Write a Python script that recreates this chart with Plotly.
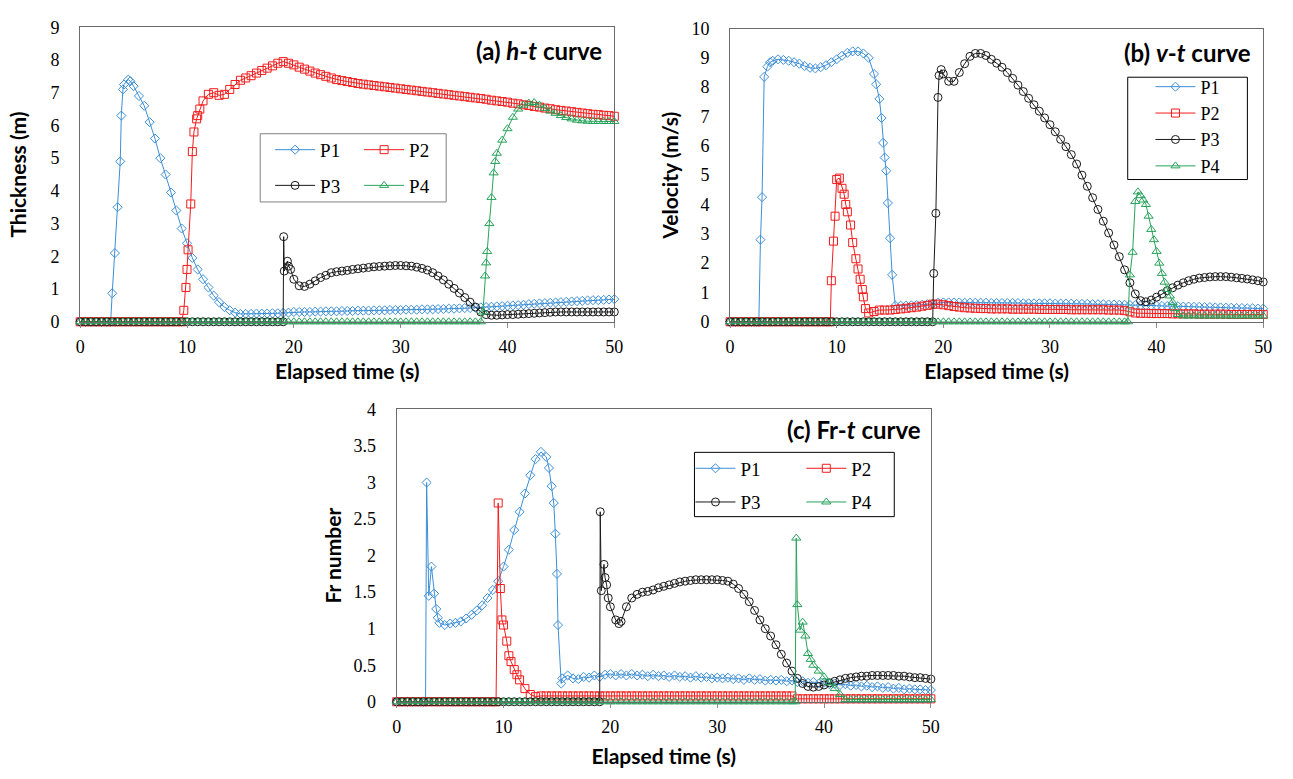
import plotly.graph_objects as go

# ---------------- data (time grid 0..50 s every 0.5 s, 101 values) ----------------
# Extra samples refine steep parts of each curve.

# (a) thickness h (m)
H_P1 = [
    0, 0, 0, 0, 0, 0, 0.87, 3.5, 7.1, 7.4,
    7.2, 6.9, 6.6, 6.1, 5.6, 5.0, 4.5, 3.95, 3.4, 2.85,
    2.4, 1.95, 1.6, 1.3, 1.05, 0.8, 0.6, 0.45, 0.35, 0.28,
    0.24, 0.24, 0.24, 0.25, 0.25, 0.25, 0.26, 0.26, 0.27, 0.28,
    0.3, 0.3, 0.3, 0.3, 0.31, 0.31, 0.32, 0.32, 0.32, 0.33,
    0.33, 0.33, 0.34, 0.34, 0.34, 0.35, 0.35, 0.35, 0.36, 0.36,
    0.36, 0.37, 0.37, 0.37, 0.38, 0.38, 0.38, 0.39, 0.39, 0.4,
    0.4, 0.41, 0.42, 0.42, 0.43, 0.44, 0.45, 0.46, 0.47, 0.48,
    0.49, 0.5, 0.51, 0.52, 0.54, 0.55, 0.56, 0.57, 0.58, 0.59,
    0.6, 0.61, 0.62, 0.63, 0.64, 0.65, 0.66, 0.66, 0.67, 0.68,
    0.69]
H_P1_XT = [2.85, 3.25, 3.75, 3.85, 4.1, 4.7]
H_P1_XV = [0.0, 2.1, 4.9, 6.3, 7.25, 7.35]

H_P2 = [
    0, 0, 0, 0, 0, 0, 0, 0, 0, 0,
    0, 0, 0, 0, 0, 0, 0, 0, 0, 0,
    1.6, 5.2, 6.3, 6.75, 6.95, 7.0, 6.92, 6.95, 7.1, 7.25,
    7.38, 7.45, 7.52, 7.6, 7.68, 7.75, 7.82, 7.9, 7.95, 7.9,
    7.85, 7.78, 7.72, 7.66, 7.6, 7.55, 7.5, 7.45, 7.4, 7.37,
    7.34, 7.31, 7.28, 7.26, 7.24, 7.22, 7.2, 7.18, 7.16, 7.14,
    7.12, 7.1, 7.08, 7.06, 7.04, 7.02, 7.0, 6.98, 6.96, 6.94,
    6.92, 6.9, 6.88, 6.86, 6.84, 6.82, 6.8, 6.77, 6.75, 6.73,
    6.71, 6.68, 6.66, 6.63, 6.61, 6.58, 6.56, 6.53, 6.51, 6.48,
    6.46, 6.44, 6.42, 6.4, 6.38, 6.36, 6.34, 6.33, 6.31, 6.3,
    6.28]
H_P2_XT = [9.7, 9.9, 10.1, 10.35, 10.65, 10.9, 11.2]
H_P2_XV = [0.35, 1.05, 2.2, 3.6, 5.8, 6.2, 6.5]

H_P3 = [
    0, 0, 0, 0, 0, 0, 0, 0, 0, 0,
    0, 0, 0, 0, 0, 0, 0, 0, 0, 0,
    0, 0, 0, 0, 0, 0, 0, 0, 0, 0,
    0, 0, 0, 0, 0, 0, 0, 0, 0, 1.7,
    1.3, 1.1, 1.08, 1.15, 1.25, 1.35, 1.42, 1.5, 1.53, 1.55,
    1.57, 1.6, 1.62, 1.64, 1.66, 1.68, 1.69, 1.7, 1.71, 1.72,
    1.72, 1.71, 1.7, 1.67, 1.63, 1.58, 1.5, 1.4, 1.28, 1.15,
    1.02, 0.88, 0.74, 0.6, 0.45, 0.3, 0.22, 0.2, 0.2, 0.21,
    0.22, 0.22, 0.23, 0.24, 0.25, 0.26, 0.27, 0.28, 0.29, 0.3,
    0.3, 0.3, 0.3, 0.3, 0.3, 0.3, 0.3, 0.3, 0.3, 0.3,
    0.3]
H_P3_XT = [19.05, 19.1, 19.4, 19.7]
H_P3_XV = [2.6, 1.55, 1.85, 1.6]

H_P4 = [
    0, 0, 0, 0, 0, 0, 0, 0, 0, 0,
    0, 0, 0, 0, 0, 0, 0, 0, 0, 0,
    0, 0, 0, 0, 0, 0, 0, 0, 0, 0,
    0, 0, 0, 0, 0, 0, 0, 0, 0, 0,
    0, 0, 0, 0, 0, 0, 0, 0, 0, 0,
    0, 0, 0, 0, 0, 0, 0, 0, 0, 0,
    0, 0, 0, 0, 0, 0, 0, 0, 0, 0,
    0, 0, 0, 0, 0, 0, 1.8, 3.8, 5.15, 5.55,
    5.9, 6.25, 6.5, 6.62, 6.68, 6.7, 6.62, 6.52, 6.44, 6.37,
    6.3, 6.24, 6.2, 6.16, 6.14, 6.13, 6.12, 6.12, 6.12, 6.12,
    6.12]
H_P4_XT = [37.7, 37.9, 38.1, 38.3, 38.7, 38.85]
H_P4_XV = [0.3, 1.4, 2.15, 3.0, 4.55, 4.9]

# (b) velocity v (m/s)
V_P1 = [
    0, 0, 0, 0, 0, 0, 4.25, 8.7, 8.9, 8.95,
    8.93, 8.9, 8.85, 8.8, 8.72, 8.66, 8.64, 8.68, 8.75, 8.85,
    8.95, 9.07, 9.17, 9.22, 9.22, 9.15, 9.0, 8.45, 7.6, 5.6,
    2.85, 0.55, 0.55, 0.55, 0.56, 0.57, 0.58, 0.6, 0.62, 0.65,
    0.66, 0.66, 0.66, 0.66, 0.65, 0.65, 0.65, 0.65, 0.65, 0.64,
    0.64, 0.64, 0.64, 0.64, 0.64, 0.63, 0.63, 0.63, 0.63, 0.63,
    0.63, 0.62, 0.62, 0.62, 0.62, 0.61, 0.61, 0.61, 0.6, 0.6,
    0.6, 0.59, 0.59, 0.58, 0.58, 0.57, 0.57, 0.56, 0.56, 0.55,
    0.55, 0.54, 0.54, 0.53, 0.53, 0.52, 0.52, 0.51, 0.51, 0.5,
    0.5, 0.49, 0.49, 0.48, 0.48, 0.47, 0.47, 0.46, 0.46, 0.45,
    0.45]
V_P1_XT = [2.7, 2.85, 3.2, 3.75, 13.7, 14.2, 14.35, 14.65, 14.8, 15.2]
V_P1_XV = [0.0, 2.8, 8.35, 8.85, 8.1, 6.95, 6.1, 5.15, 4.05, 1.6]

V_P2 = [
    0, 0, 0, 0, 0, 0, 0, 0, 0, 0,
    0, 0, 0, 0, 0, 0, 0, 0, 0, 1.4,
    4.85, 4.55, 3.75, 2.7, 1.8, 0.85, 0.3, 0.35, 0.4, 0.4,
    0.4, 0.42, 0.44, 0.46, 0.48, 0.5, 0.53, 0.56, 0.6, 0.6,
    0.58, 0.55, 0.52, 0.5, 0.48, 0.47, 0.46, 0.45, 0.45, 0.44,
    0.44, 0.44, 0.44, 0.43, 0.43, 0.43, 0.43, 0.43, 0.42, 0.42,
    0.42, 0.42, 0.42, 0.42, 0.41, 0.41, 0.41, 0.41, 0.41, 0.41,
    0.41, 0.4, 0.4, 0.4, 0.38, 0.34, 0.3, 0.29, 0.29, 0.28,
    0.28, 0.28, 0.28, 0.27, 0.27, 0.27, 0.27, 0.27, 0.26, 0.26,
    0.26, 0.26, 0.26, 0.26, 0.25, 0.25, 0.25, 0.25, 0.25, 0.25,
    0.25]
V_P2_XT = [9.4, 9.7, 9.85, 10.25, 10.7, 10.85, 11.3, 11.8, 12.2, 12.4, 12.7]
V_P2_XV = [0.0, 2.75, 3.6, 4.9, 4.35, 4.0, 3.3, 2.15, 1.45, 1.1, 0.45]

V_P3 = [
    0, 0, 0, 0, 0, 0, 0, 0, 0, 0,
    0, 0, 0, 0, 0, 0, 0, 0, 0, 0,
    0, 0, 0, 0, 0, 0, 0, 0, 0, 0,
    0, 0, 0, 0, 0, 0, 0, 0, 0, 7.65,
    8.45, 8.2, 8.2, 8.5, 8.8, 9.05, 9.15, 9.15, 9.08, 8.95,
    8.82, 8.68, 8.5, 8.3, 8.07, 7.85, 7.62, 7.4, 7.18, 6.95,
    6.72, 6.48, 6.22, 5.97, 5.7, 5.38, 5.0, 4.62, 4.23, 3.83,
    3.43, 3.03, 2.62, 2.22, 1.77, 1.33, 0.95, 0.72, 0.68, 0.74,
    0.84, 0.95, 1.06, 1.16, 1.25, 1.33, 1.4, 1.45, 1.49, 1.51,
    1.53, 1.54, 1.54, 1.54, 1.52, 1.5, 1.48, 1.46, 1.43, 1.4,
    1.36]
V_P3_XT = [19.1, 19.3, 19.6, 19.8]
V_P3_XV = [1.65, 3.7, 8.4, 8.6]

V_P4 = [
    0, 0, 0, 0, 0, 0, 0, 0, 0, 0,
    0, 0, 0, 0, 0, 0, 0, 0, 0, 0,
    0, 0, 0, 0, 0, 0, 0, 0, 0, 0,
    0, 0, 0, 0, 0, 0, 0, 0, 0, 0,
    0, 0, 0, 0, 0, 0, 0, 0, 0, 0,
    0, 0, 0, 0, 0, 0, 0, 0, 0, 0,
    0, 0, 0, 0, 0, 0, 0, 0, 0, 0,
    0, 0, 0, 0, 0, 1.6, 4.1, 4.3, 4.0, 3.15,
    2.4, 1.65, 1.1, 0.66, 0.25, 0.2, 0.2, 0.2, 0.2, 0.2,
    0.2, 0.2, 0.2, 0.2, 0.2, 0.2, 0.2, 0.2, 0.2, 0.2,
    0.2]
V_P4_XT = [37.3, 37.75, 38.25, 38.75, 39.25, 39.75, 40.25, 40.75, 41.25, 41.75]
V_P4_XV = [0.0, 2.37, 4.43, 4.15, 3.6, 2.8, 2.0, 1.35, 0.88, 0.45]

# (c) Froude number
F_P1 = [
    0, 0, 0, 0, 0, 0, 1.45, 1.48, 1.08, 1.05,
    1.07, 1.08, 1.1, 1.14, 1.19, 1.25, 1.32, 1.42, 1.53, 1.65,
    1.85, 2.08, 2.35, 2.6, 2.85, 3.1, 3.32, 3.42, 3.35, 2.95,
    1.75, 0.32, 0.36, 0.32, 0.31, 0.34, 0.33, 0.36, 0.34, 0.37,
    0.38, 0.36, 0.38, 0.36, 0.38, 0.36, 0.37, 0.35, 0.37, 0.35,
    0.36, 0.34, 0.36, 0.34, 0.35, 0.33, 0.35, 0.33, 0.34, 0.32,
    0.33, 0.32, 0.33, 0.31, 0.32, 0.3, 0.32, 0.3, 0.31, 0.29,
    0.3, 0.29, 0.3, 0.28, 0.29, 0.27, 0.28, 0.26, 0.27, 0.25,
    0.26, 0.24, 0.25, 0.23, 0.24, 0.22, 0.23, 0.21, 0.22, 0.2,
    0.21, 0.19, 0.2, 0.18, 0.19, 0.17, 0.18, 0.17, 0.17, 0.16,
    0.16]
F_P1_XT = [2.7, 2.8, 3.25, 3.7, 3.85, 14.25, 14.7, 14.85, 15.1, 15.4]
F_P1_XV = [0.0, 3.0, 1.85, 1.27, 1.15, 3.2, 2.72, 2.3, 1.05, 0.25]

F_P2 = [
    0, 0, 0, 0, 0, 0, 0, 0, 0, 0,
    0, 0, 0, 0, 0, 0, 0, 0, 0, 2.72,
    1.05, 0.63, 0.44, 0.3, 0.18, 0.1, 0.07, 0.08, 0.08, 0.08,
    0.08, 0.08, 0.08, 0.08, 0.08, 0.08, 0.08, 0.08, 0.08, 0.08,
    0.08, 0.08, 0.08, 0.08, 0.08, 0.08, 0.08, 0.08, 0.08, 0.08,
    0.08, 0.08, 0.08, 0.08, 0.08, 0.08, 0.08, 0.08, 0.08, 0.08,
    0.08, 0.08, 0.08, 0.08, 0.08, 0.08, 0.08, 0.08, 0.08, 0.08,
    0.08, 0.08, 0.08, 0.08, 0.08, 0.04, 0.04, 0.04, 0.04, 0.04,
    0.04, 0.04, 0.04, 0.04, 0.04, 0.04, 0.04, 0.04, 0.04, 0.04,
    0.04, 0.04, 0.04, 0.04, 0.04, 0.04, 0.04, 0.04, 0.04, 0.04,
    0.04]
F_P2_XT = [9.3, 9.7, 9.85, 10.3, 10.7, 11.25]
F_P2_XV = [0.0, 1.55, 1.12, 0.83, 0.55, 0.37]

F_P3 = [
    0, 0, 0, 0, 0, 0, 0, 0, 0, 0,
    0, 0, 0, 0, 0, 0, 0, 0, 0, 0,
    0, 0, 0, 0, 0, 0, 0, 0, 0, 0,
    0, 0, 0, 0, 0, 0, 0, 0, 0, 1.7,
    1.3, 1.12, 1.1, 1.3, 1.42, 1.47, 1.5, 1.51, 1.53, 1.56,
    1.58, 1.6, 1.62, 1.64, 1.65, 1.66, 1.67, 1.67, 1.67, 1.67,
    1.67, 1.66, 1.65, 1.61, 1.55, 1.47, 1.37, 1.25, 1.12, 1.0,
    0.9, 0.78, 0.65, 0.53, 0.42, 0.32, 0.25, 0.21, 0.2, 0.21,
    0.23, 0.26, 0.28, 0.3, 0.32, 0.33, 0.34, 0.35, 0.35, 0.36,
    0.36, 0.36, 0.36, 0.36, 0.35, 0.35, 0.34, 0.33, 0.33, 0.32,
    0.31]
F_P3_XT = [19.05, 19.15, 19.4, 19.65, 19.8, 20.8]
F_P3_XV = [2.6, 1.52, 1.88, 1.6, 1.42, 1.07]

F_P4 = [
    0, 0, 0, 0, 0, 0, 0, 0, 0, 0,
    0, 0, 0, 0, 0, 0, 0, 0, 0, 0,
    0, 0, 0, 0, 0, 0, 0, 0, 0, 0,
    0, 0, 0, 0, 0, 0, 0, 0, 0, 0,
    0, 0, 0, 0, 0, 0, 0, 0, 0, 0,
    0, 0, 0, 0, 0, 0, 0, 0, 0, 0,
    0, 0, 0, 0, 0, 0, 0, 0, 0, 0,
    0, 0, 0, 0, 0, 1.33, 1.09, 0.66, 0.5, 0.42,
    0.34, 0.26, 0.18, 0.1, 0.03, 0.03, 0.03, 0.03, 0.03, 0.03,
    0.03, 0.03, 0.03, 0.03, 0.03, 0.03, 0.03, 0.03, 0.03, 0.03,
    0.03]
F_P4_XT = [37.3, 37.4, 37.75, 38.25, 38.75]
F_P4_XV = [0.0, 2.24, 0.98, 0.9, 0.58]

SERIES_NAMES = ["P1", "P2", "P3", "P4"]
X_TICKS = [0, 10, 20, 30, 40, 50]

# ---------------- styling ----------------
COLORS = ["#3D8FD6", "#F21C1C", "#1A1A1A", "#27A35A"]
SYMBOLS = ["diamond-open", "square-open", "circle-open", "triangle-up-open"]
SIZES = [7, 8, 8, 8]
W, H = 1293, 779
SERIF = "Liberation Serif, Times New Roman, serif"
SANS = "Lato, Open Sans, sans-serif"


def build(vals, ext_t, ext_v):
    t = [i * 0.5 for i in range(len(vals))] + list(ext_t)
    v = list(vals) + list(ext_v)
    order = sorted(range(len(t)), key=lambda k: t[k])
    return [t[k] for k in order], [v[k] for k in order]


def px(x):
    return x / W


def py(y):
    return 1 - y / H


panels = [
    ("x", "y", [(H_P1, H_P1_XT, H_P1_XV), (H_P2, H_P2_XT, H_P2_XV),
                (H_P3, H_P3_XT, H_P3_XV), (H_P4, H_P4_XT, H_P4_XV)],
     ["legend", "legend2", "legend", "legend2"]),
    ("x2", "y2", [(V_P1, V_P1_XT, V_P1_XV), (V_P2, V_P2_XT, V_P2_XV),
                  (V_P3, V_P3_XT, V_P3_XV), (V_P4, V_P4_XT, V_P4_XV)],
     ["legend3"] * 4),
    ("x3", "y3", [(F_P1, F_P1_XT, F_P1_XV), (F_P2, F_P2_XT, F_P2_XV),
                  (F_P3, F_P3_XT, F_P3_XV), (F_P4, F_P4_XT, F_P4_XV)],
     ["legend4", "legend5", "legend4", "legend5"]),
]

fig = go.Figure()
for pi, (xa, ya, series, legs) in enumerate(panels):
    for si, (vals, et, ev) in enumerate(series):
        t, v = build(vals, et, ev)
        fig.add_trace(go.Scatter(
            x=t, y=v, xaxis=xa, yaxis=ya, mode="lines+markers",
            name=SERIES_NAMES[si], legend=legs[si],
            legendgroup=f"g{pi}{si}",
            line=dict(color=COLORS[si], width=1),
            marker=dict(symbol=SYMBOLS[si], size=SIZES[si], color=COLORS[si],
                        line=dict(color=COLORS[si], width=1)),
            cliponaxis=False,
        ))

tickfont = dict(family=SERIF, size=18, color="black")
titlefont = dict(family=SANS, size=21, color="black", weight="bold")


def xaxis(domain, anchor, standoff):
    return dict(domain=domain, anchor=anchor, range=[0, 50], tickvals=X_TICKS,
                showline=True, mirror=True, linecolor="#6b6b6b", linewidth=1,
                ticks="outside", ticklen=5, tickcolor="#8a8a8a",
                ticklabelstandoff=4,
                showgrid=False, zeroline=False, tickfont=tickfont,
                title=dict(text="Elapsed time (s)", font=titlefont, standoff=standoff))


def yaxis(domain, anchor, rng, dtick, title, standoff):
    return dict(domain=domain, anchor=anchor, range=rng, dtick=dtick,
                showline=True, mirror=True, linecolor="#6b6b6b", linewidth=1,
                ticks="", showgrid=False, zeroline=False, tickfont=tickfont,
                ticklabelstandoff=16,
                title=dict(text=title, font=titlefont, standoff=standoff))


def legend(x, y, gap=8, size=19):
    return dict(x=px(x), y=py(y), xanchor="left", yanchor="top",
                font=dict(family=SERIF, size=size, color="black"),
                bgcolor="rgba(0,0,0,0)", borderwidth=0,
                tracegroupgap=gap, itemwidth=40, orientation="v")


fig.update_layout(
    width=W, height=H, autosize=False,
    margin=dict(l=0, r=0, t=0, b=0),
    paper_bgcolor="white", plot_bgcolor="white",
    showlegend=True,
    xaxis=xaxis([px(76), px(616)], "y", 7),
    yaxis=yaxis([py(320), py(17.7)], "x", [0, 9], 1, "Thickness (m)", 18),
    xaxis2=xaxis([px(733), px(1272)], "y2", 7),
    yaxis2=yaxis([py(320), py(19)], "x2", [0, 10], 1, "Velocity (m/s)", 7),
    xaxis3=xaxis([px(396), px(936)], "y3", 12),
    yaxis3=yaxis([py(710), py(410)], "x3", [0, 4], 0.5, "Fr number", 6),
    legend=legend(268, 124, gap=8),
    legend2=legend(358, 124, gap=8),
    legend3=legend(1158, 60, gap=0, size=18),
    legend4=legend(693, 451, gap=6),
    legend5=legend(805, 451, gap=6),
    shapes=[
        dict(type="rect", xref="paper", yref="paper", x0=px(258), x1=px(446),
             y0=py(197), y1=py(127), line=dict(color="#808080", width=1)),
        dict(type="rect", xref="paper", yref="paper", x0=px(1135), x1=px(1256),
             y0=py(174), y1=py(69), line=dict(color="black", width=1)),
        dict(type="rect", xref="paper", yref="paper", x0=px(697), x1=px(899),
             y0=py(520), y1=py(454), line=dict(color="black", width=1)),
    ],
    annotations=[
        dict(text="<b>(a) <i>h</i>-<i>t</i> curve</b>", x=px(606), y=py(42),
             xref="paper", yref="paper", xanchor="right", yanchor="middle",
             showarrow=False, font=dict(family=SANS, size=24, color="black")),
        dict(text="<b>(b) <i>v</i>-<i>t</i> curve</b>", x=px(1262), y=py(44),
             xref="paper", yref="paper", xanchor="right", yanchor="middle",
             showarrow=False, font=dict(family=SANS, size=24, color="black")),
        dict(text="<b>(c) Fr-<i>t</i> curve</b>", x=px(928), y=py(431),
             xref="paper", yref="paper", xanchor="right", yanchor="middle",
             showarrow=False, font=dict(family=SANS, size=24, color="black")),
    ],
)

fig.write_html("out.html")
